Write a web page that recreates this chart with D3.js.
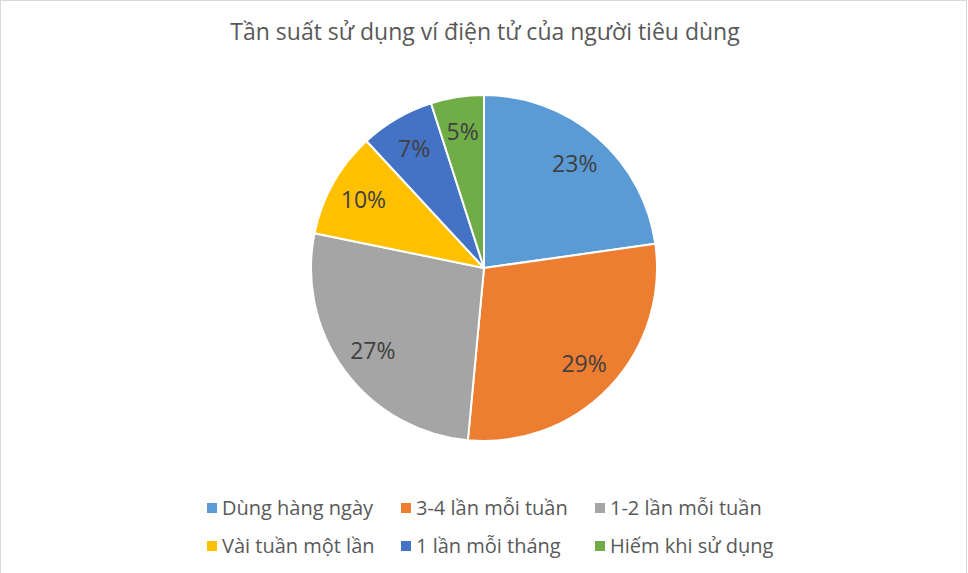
<!DOCTYPE html>
<html>
<head>
  <meta charset="utf-8">
  <style>
    body { margin: 0; background: white; }
    text { font-family: "Open Sans", "Noto Sans", sans-serif; }
  </style>
</head>
<body>
  <script src="https://d3js.org/d3.v7.min.js"></script>
  <script>
    var width = 968, height = 573;

    var title = "Tần suất sử dụng ví điện tử của người tiêu dùng";
    var categories = ["Dùng hàng ngày", "3-4 lần mỗi tuần", "1-2 lần mỗi tuần",
                      "Vài tuần một lần", "1 lần mỗi tháng", "Hiếm khi sử dụng"];
    var values = [23, 29, 27, 10, 7, 5];
    var colors = ["#5B9BD5", "#ED7D31", "#A5A5A5", "#FFC000", "#4472C4", "#70AD47"];

    var cx = 484, cy = 268, radius = 173;

    var svg = d3.select("body").append("svg")
        .attr("width", width)
        .attr("height", height);

    // chart frame
    svg.append("rect")
        .attr("x", 0.5).attr("y", 0.5)
        .attr("width", width - 2).attr("height", height + 5)
        .attr("fill", "white")
        .attr("stroke", "#D9D9D9");

    svg.append("text")
        .attr("x", cx + 1).attr("y", 40)
        .attr("text-anchor", "middle")
        .attr("font-size", 23)
        .attr("fill", "#595959")
        .text(title);

    var color = d3.scaleOrdinal().domain(categories).range(colors);

    var pie = d3.pie().sort(null).value(d => d.value);
    var data = categories.map((c, i) => ({ name: c, value: values[i] }));
    var arcs = pie(data);

    var arc = d3.arc().innerRadius(0).outerRadius(radius);
    var labelArc = d3.arc().innerRadius(radius * 0.8).outerRadius(radius * 0.8);

    var g = svg.append("g").attr("transform", "translate(" + cx + "," + cy + ")");

    g.selectAll("path")
        .data(arcs)
      .enter().append("path")
        .attr("d", arc)
        .attr("fill", d => color(d.data.name))
        .attr("stroke", "white")
        .attr("stroke-width", 2)
        .attr("stroke-linejoin", "round");

    g.selectAll("text.label")
        .data(arcs)
      .enter().append("text")
        .attr("class", "label")
        .attr("transform", d => "translate(" + labelArc.centroid(d) + ")")
        .attr("text-anchor", "middle")
        .attr("dy", "0.36em")
        .attr("font-size", 23)
        .attr("fill", "#404040")
        .text(d => d.data.value + "%");

    // legend: 3 columns x 2 rows
    var colX = [207, 401, 595], rowY = [508, 546];
    var legend = svg.selectAll("g.legend")
        .data(categories)
      .enter().append("g")
        .attr("class", "legend")
        .attr("transform", (d, i) => "translate(" + colX[i % 3] + "," + rowY[Math.floor(i / 3)] + ")");

    legend.append("rect")
        .attr("x", 0).attr("y", -5)
        .attr("width", 10).attr("height", 10)
        .attr("fill", d => color(d));

    legend.append("text")
        .attr("x", 15)
        .attr("dy", "0.36em")
        .attr("font-size", 20)
        .attr("fill", "#595959")
        .text(d => d);
  </script>
</body>
</html>
